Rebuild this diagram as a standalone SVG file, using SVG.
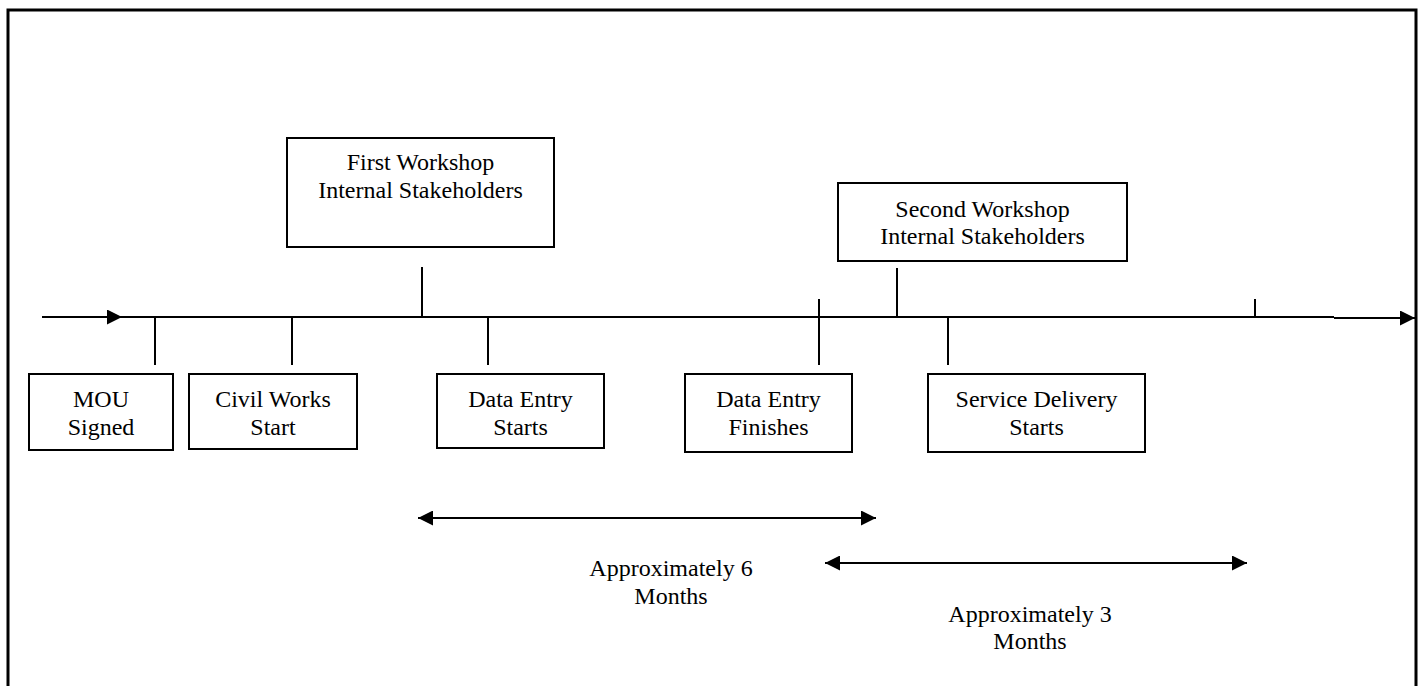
<svg xmlns="http://www.w3.org/2000/svg" width="1424" height="686" viewBox="0 0 1424 686">
<style>
  .box { fill: #fff; stroke: #000; stroke-width: 2; }
  .ln { stroke: #000; stroke-width: 2; fill: none; }
  .t { font-family: "Liberation Serif", "Times New Roman", serif; font-size: 24px; fill: #000; text-anchor: middle; }
</style>
<defs>
  <marker id="big" viewBox="0 0 10 10" refX="10" refY="5" markerWidth="17" markerHeight="15" markerUnits="userSpaceOnUse" orient="auto-start-reverse">
    <path d="M0,0 L10,5 L0,10 Z" fill="#000"/>
  </marker>
</defs>
<rect width="1424" height="686" fill="#fff"/>
<path d="M8,690 V10 H1416 V690" fill="none" stroke="#000" stroke-width="3"/>

<g id="connectors">
  <line class="ln" x1="42" y1="317" x2="1334" y2="317"/>
  <line class="ln" x1="42" y1="317" x2="122" y2="317" marker-end="url(#big)"/>
  <line class="ln" x1="1334" y1="318" x2="1415" y2="318" marker-end="url(#big)"/>
  <line class="ln" x1="155" y1="317" x2="155" y2="365"/>
  <line class="ln" x1="292" y1="317" x2="292" y2="365"/>
  <line class="ln" x1="422" y1="267" x2="422" y2="317"/>
  <line class="ln" x1="488" y1="317" x2="488" y2="365"/>
  <line class="ln" x1="819" y1="299" x2="819" y2="365"/>
  <line class="ln" x1="897" y1="268" x2="897" y2="317"/>
  <line class="ln" x1="948" y1="317" x2="948" y2="365"/>
  <line class="ln" x1="1255" y1="299" x2="1255" y2="317"/>
  <line class="ln" x1="418" y1="518" x2="876" y2="518" marker-start="url(#big)" marker-end="url(#big)"/>
  <line class="ln" x1="825" y1="563" x2="1247" y2="563" marker-start="url(#big)" marker-end="url(#big)"/>
</g>

<g id="first-workshop">
  <rect class="box" x="287" y="138" width="267" height="109"/>
  <text class="t" x="420.5" y="170">First Workshop</text>
  <text class="t" x="420.5" y="198">Internal Stakeholders</text>
</g>
<g id="second-workshop">
  <rect class="box" x="838" y="183" width="289" height="78"/>
  <text class="t" x="982.5" y="217">Second Workshop</text>
  <text class="t" x="982.5" y="244">Internal Stakeholders</text>
</g>
<g id="mou">
  <rect class="box" x="29" y="374" width="144" height="76"/>
  <text class="t" x="101" y="407">MOU</text>
  <text class="t" x="101" y="435">Signed</text>
</g>
<g id="civil-works">
  <rect class="box" x="189" y="374" width="168" height="75"/>
  <text class="t" x="273" y="407">Civil Works</text>
  <text class="t" x="273" y="435">Start</text>
</g>
<g id="data-entry-starts">
  <rect class="box" x="437" y="374" width="167" height="74"/>
  <text class="t" x="520.5" y="407">Data Entry</text>
  <text class="t" x="520.5" y="435">Starts</text>
</g>
<g id="data-entry-finishes">
  <rect class="box" x="685" y="374" width="167" height="78"/>
  <text class="t" x="768.5" y="407">Data Entry</text>
  <text class="t" x="768.5" y="435">Finishes</text>
</g>
<g id="service-delivery">
  <rect class="box" x="928" y="374" width="217" height="78"/>
  <text class="t" x="1036.5" y="407">Service Delivery</text>
  <text class="t" x="1036.5" y="435">Starts</text>
</g>
<g id="label-6-months">
  <text class="t" x="671" y="576">Approximately 6</text>
  <text class="t" x="671" y="604">Months</text>
</g>
<g id="label-3-months">
  <text class="t" x="1030" y="622">Approximately 3</text>
  <text class="t" x="1030" y="649">Months</text>
</g>
</svg>
